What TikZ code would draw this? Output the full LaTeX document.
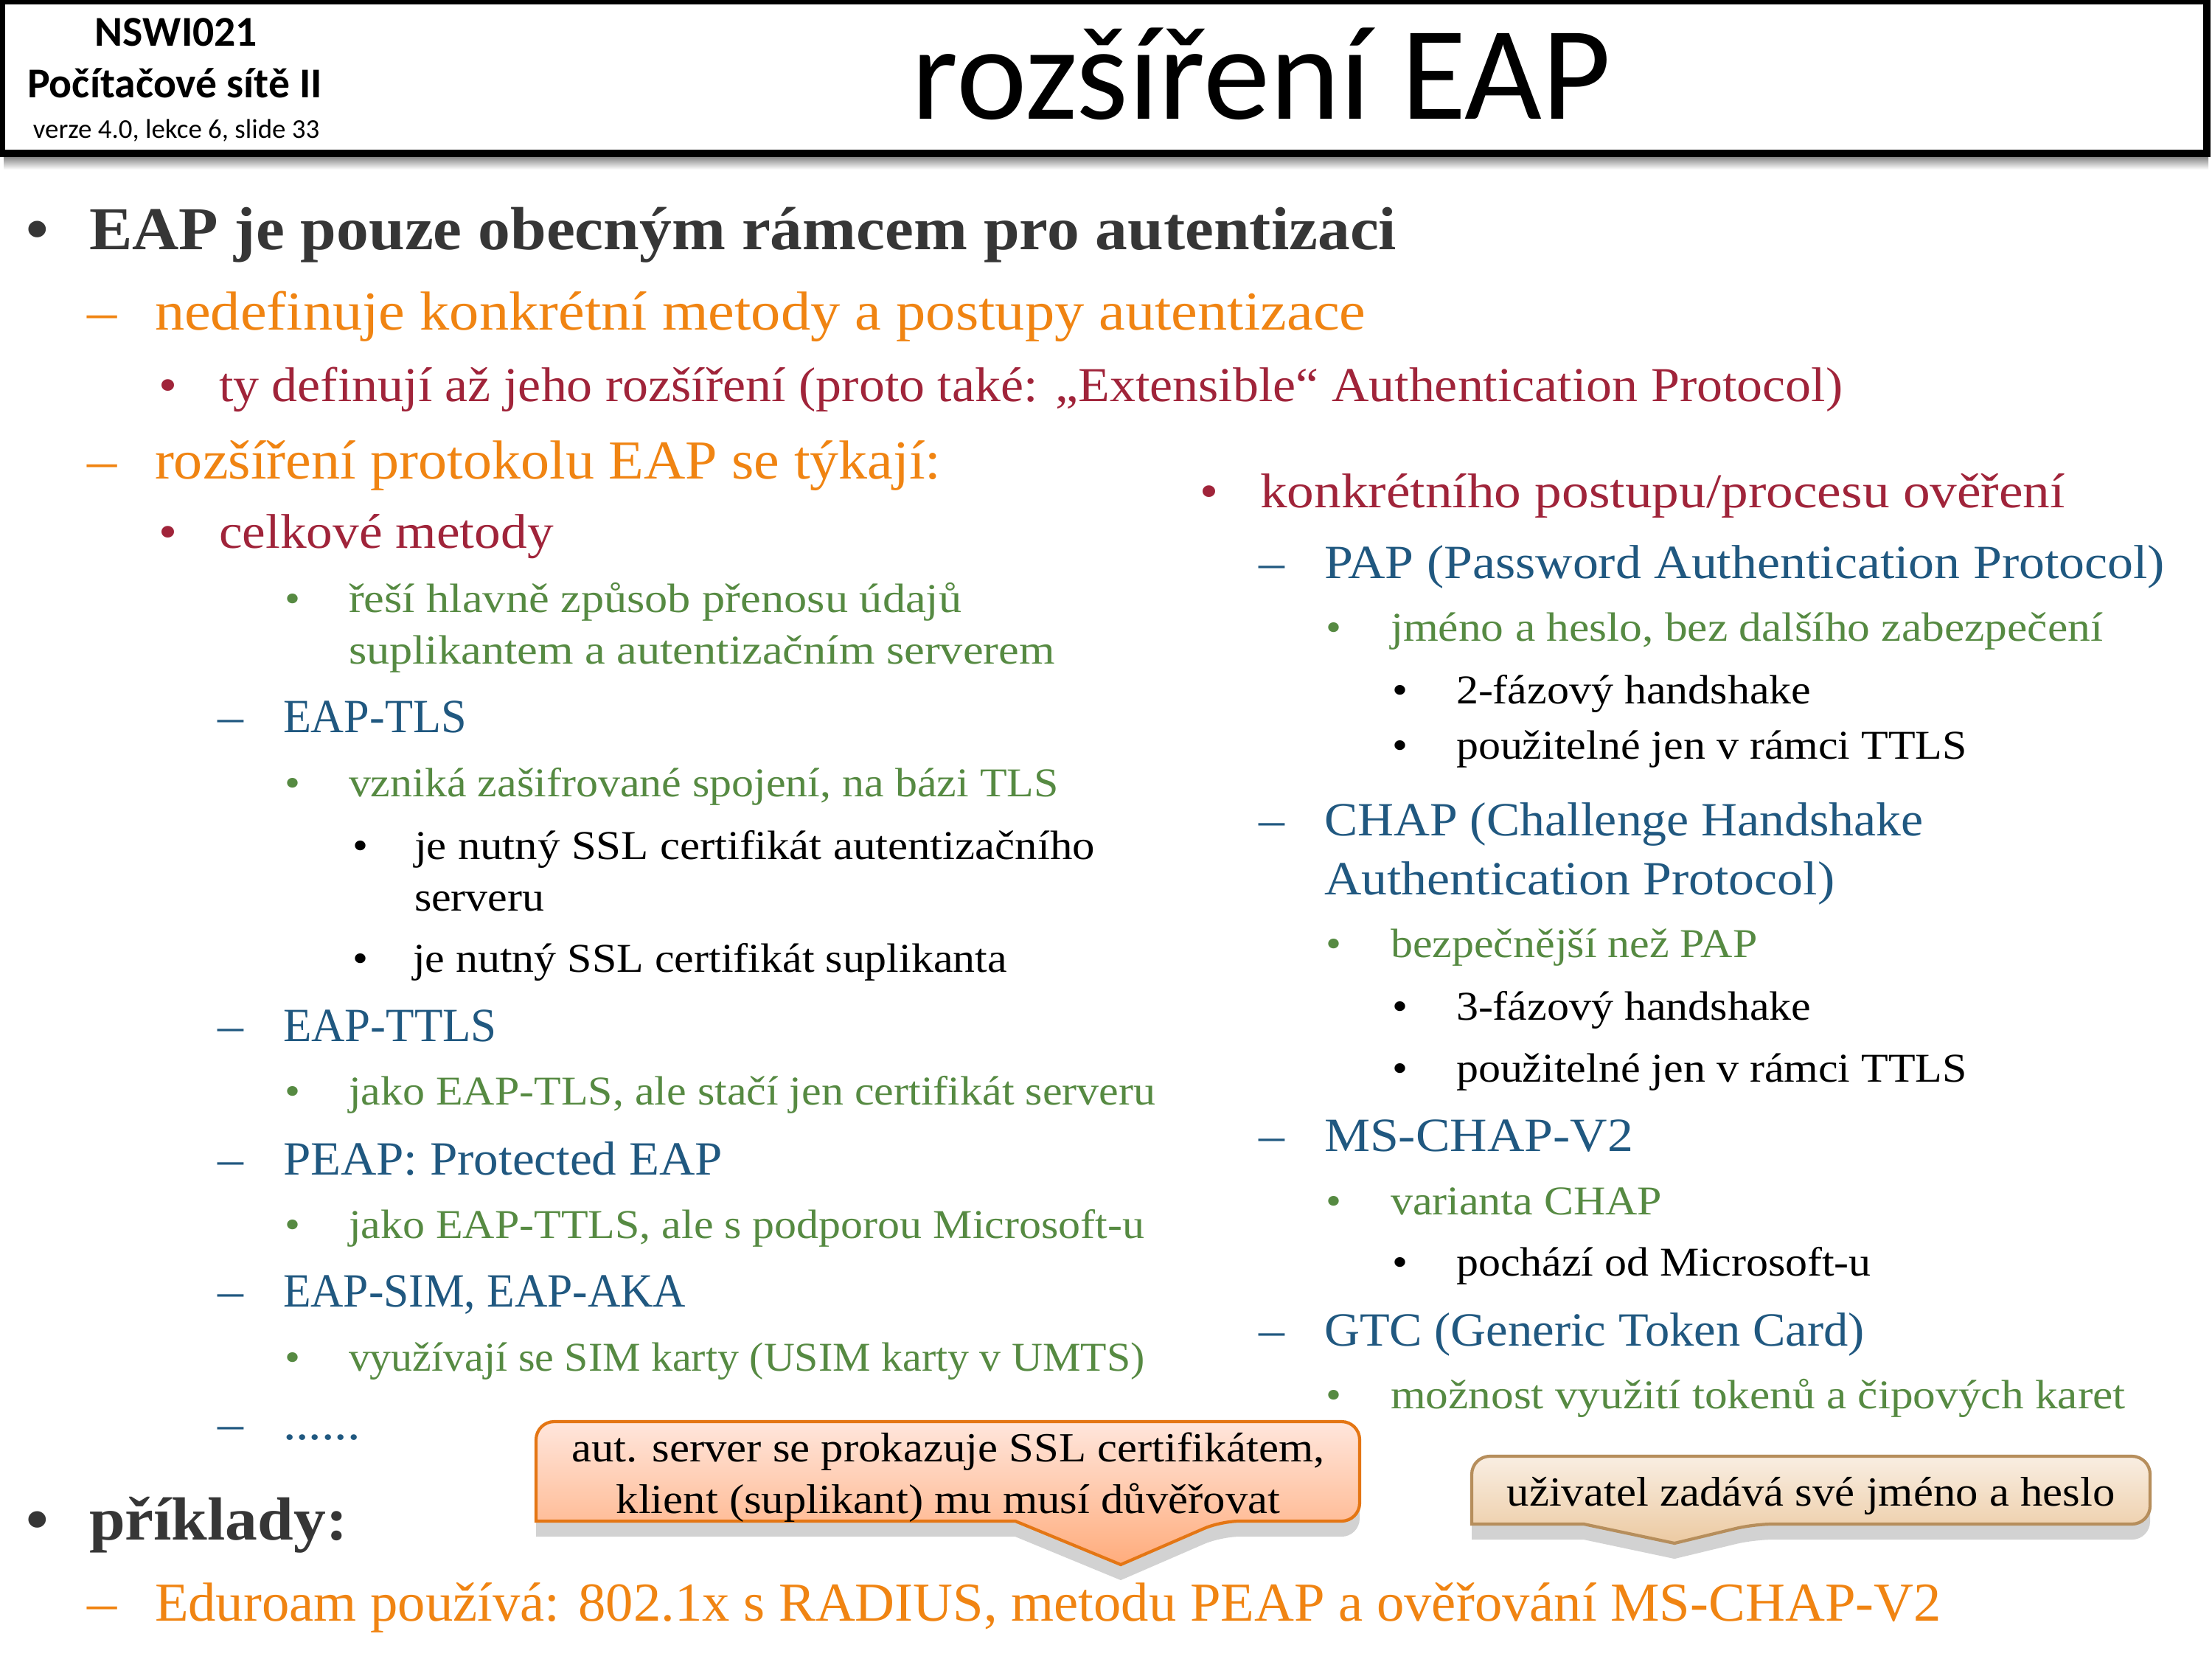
\documentclass[tikz,border=0pt]{standalone}
\usepackage{fontspec}
\setmainfont{Liberation Serif}[FakeStretch=1.08, BoldFeatures={FakeStretch=1.06}]
\newfontfamily\headfont{Carlito}
\usetikzlibrary{shadows}

\definecolor{txtgrey}{RGB}{54,54,54}
\definecolor{txtorange}{RGB}{240,132,18}
\definecolor{txtred}{RGB}{160,36,58}
\definecolor{txtblue}{RGB}{32,88,128}
\definecolor{txtgreen}{RGB}{86,138,66}
\definecolor{peachtop}{RGB}{255,230,220}
\definecolor{peachbot}{RGB}{255,172,124}
\definecolor{peachline}{RGB}{228,118,20}
\definecolor{sandtop}{RGB}{249,238,226}
\definecolor{sandbot}{RGB}{236,202,162}
\definecolor{sandline}{RGB}{182,142,92}

% horizontal squeeze for lines where the caps run wide
\newcommand{\sqz}[2]{\scalebox{#1}[1]{#2}}

\tikzset{
  txt/.style={anchor=base west, inner sep=0pt, outer sep=0pt},
  lvone/.style={txt, text=txtgrey, font=\fontsize{23.5}{28}\selectfont\bfseries},
  lvtwo/.style={txt, text=txtorange, font=\fontsize{21.2}{25}\selectfont},
  lvthree/.style={txt, text=txtred, font=\fontsize{18.8}{22}\selectfont},
  lvfour/.style={txt, text=txtblue, font=\fontsize{18.4}{22}\selectfont},
  lvfive/.style={txt, text=txtgreen, font=\fontsize{15.8}{19}\selectfont},
  lvsix/.style={txt, text=black, font=\fontsize{15.8}{19}\selectfont},
  mkone/.style={lvone},
  mktwo/.style={lvtwo},
  mkthree/.style={lvthree},
  mkfour/.style={lvfour},
  mkfive/.style={lvfive},
  mksix/.style={lvsix},
  headbold/.style={anchor=base, inner sep=0pt, font=\headfont\fontsize{16.4}{19}\selectfont\bfseries},
  headsmall/.style={anchor=base, inner sep=0pt, font=\headfont\fontsize{10.5}{12}\selectfont},
  titletext/.style={anchor=base, inner sep=0pt, font=\headfont\fontsize{51.5}{60}\selectfont},
  calltext/.style={anchor=base, inner sep=0pt, text=black, font=\fontsize{16}{19}\selectfont},
  calloutA/.style={draw=peachline, line width=1.2pt, top color=peachtop, bottom color=peachbot,
    drop shadow={opacity=0.35, shadow xshift=0pt, shadow yshift=-6pt}},
  calloutB/.style={draw=sandline, line width=1.2pt, top color=sandtop, bottom color=sandbot,
    drop shadow={opacity=0.35, shadow xshift=0pt, shadow yshift=-6pt}},
}

\begin{document}
\begin{tikzpicture}
  \useasboundingbox (0,0) rectangle (30,-22.5);
  \fill[white] (0,0) rectangle (30,-22.5);

  % header
  \shade[top color=black!55, bottom color=white] (0.05,-2.10) rectangle (29.95,-2.30);
  \draw[line width=0.1cm] (0.02,-0.01) rectangle (29.93,-2.085);
  \node[headbold] (course) at (2.39,-0.63) {NSWI021};
  \node[headbold] (subject) at (2.37,-1.33) {Počítačové sítě II};
  \node[headsmall] (version) at (2.39,-1.88) {verze 4.0, lekce 6, slide 33};
  \node[titletext] (title) at (17.11,-1.62) {rozšíření EAP};

  % left column
  \node[mkone] (eapDot) at (0.35,-3.39) {•};
  \node[lvone] (eap) at (1.21,-3.39) {EAP je pouze obecným rámcem pro autentizaci};
  \node[mktwo] (nodefDash) at (1.18,-4.48) {–};
  \node[lvtwo] (nodef) at (2.10,-4.48) {nedefinuje konkrétní metody a postupy autentizace};
  \node[mkthree] (tyDot) at (2.15,-5.45) {•};
  \node[lvthree] (ty) at (2.97,-5.45) {\sqz{0.98}{ty definují až jeho rozšíření (proto také: „Extensible“ Authentication Protocol)}};
  \node[mktwo] (extDash) at (1.18,-6.50) {–};
  \node[lvtwo] (ext) at (2.10,-6.50) {\sqz{0.97}{rozšíření protokolu EAP se týkají:}};
  \node[mkthree] (celkDot) at (2.15,-7.44) {•};
  \node[lvthree] (celk) at (2.97,-7.44) {celkové metody};
  \node[mkfive] (resDot) at (3.86,-8.31) {•};
  \node[lvfive] (resA) at (4.73,-8.31) {\sqz{1.04}{řeší hlavně způsob přenosu údajů}};
  \node[lvfive] (resB) at (4.73,-9.01) {\sqz{1.04}{suplikantem a autentizačním serverem}};
  \node[mkfour] (tlsDash) at (2.95,-9.94) {–};
  \node[lvfour] (tls) at (3.84,-9.94) {\sqz{0.89}{EAP-TLS}};
  \node[mkfive] (tlsDot) at (3.86,-10.80) {•};
  \node[lvfive] (tlsA) at (4.73,-10.80) {vzniká zašifrované spojení, na bázi TLS};
  \node[mksix] (certDot) at (4.78,-11.65) {•};
  \node[lvsix] (certA) at (5.62,-11.65) {\sqz{1.015}{je nutný SSL certifikát autentizačního}};
  \node[lvsix] (certB) at (5.62,-12.35) {serveru};
  \node[mksix] (suplDot) at (4.78,-13.18) {•};
  \node[lvsix] (supl) at (5.60,-13.18) {je nutný SSL certifikát suplikanta};
  \node[mkfour] (ttlsDash) at (2.95,-14.12) {–};
  \node[lvfour] (ttls) at (3.84,-14.12) {\sqz{0.90}{EAP-TTLS}};
  \node[mkfive] (ttlsDot) at (3.86,-14.98) {•};
  \node[lvfive] (ttlsA) at (4.73,-14.98) {jako EAP-TLS, ale stačí jen certifikát serveru};
  \node[mkfour] (peapDash) at (2.95,-15.93) {–};
  \node[lvfour] (peap) at (3.84,-15.93) {\sqz{0.96}{PEAP: Protected EAP}};
  \node[mkfive] (peapDot) at (3.86,-16.79) {•};
  \node[lvfive] (peapA) at (4.73,-16.79) {jako EAP-TTLS, ale s podporou Microsoft-u};
  \node[mkfour] (simDash) at (2.95,-17.72) {–};
  \node[lvfour] (sim) at (3.84,-17.72) {\sqz{0.88}{EAP-SIM, EAP-AKA}};
  \node[mkfive] (simDot) at (3.86,-18.59) {•};
  \node[lvfive] (simA) at (4.73,-18.59) {\sqz{0.966}{využívají se SIM karty (USIM karty v UMTS)}};
  \node[mkfour] (moreDash) at (2.95,-19.52) {–};
  \node[lvfour] (more) at (3.84,-19.52) {......};
  \node[mkone] (exDot) at (0.35,-20.88) {•};
  \node[lvone] (ex) at (1.21,-20.88) {příklady:};
  \node[mktwo] (eduDash) at (1.18,-21.98) {–};
  \node[lvtwo] (edu) at (2.10,-21.98) {\sqz{0.928}{Eduroam používá: 802.1x s RADIUS, metodu PEAP a ověřování MS-CHAP-V2}};

  % right column
  \node[mkthree] (procDot) at (16.27,-6.89) {•};
  \node[lvthree] (proc) at (17.09,-6.89) {\sqz{1.028}{konkrétního postupu/procesu ověření}};
  \node[mkfour] (papDash) at (17.07,-7.85) {–};
  \node[lvfour] (pap) at (17.96,-7.85) {PAP (Password Authentication Protocol)};
  \node[mkfive] (papDot) at (17.98,-8.70) {•};
  \node[lvfive] (papA) at (18.86,-8.70) {\sqz{1.025}{jméno a heslo, bez dalšího zabezpečení}};
  \node[mksix] (papBDot) at (18.88,-9.55) {•};
  \node[lvsix] (papB) at (19.75,-9.55) {2-fázový handshake};
  \node[mksix] (papCDot) at (18.88,-10.30) {•};
  \node[lvsix] (papC) at (19.75,-10.30) {použitelné jen v rámci TTLS};
  \node[mkfour] (chapDash) at (17.07,-11.33) {–};
  \node[lvfour] (chapA) at (17.96,-11.33) {\sqz{0.97}{CHAP (Challenge Handshake}};
  \node[lvfour] (chapB) at (17.96,-12.13) {Authentication Protocol)};
  \node[mkfive] (chapDot) at (17.98,-12.98) {•};
  \node[lvfive] (chapC) at (18.86,-12.98) {bezpečnější než PAP};
  \node[mksix] (chapDDot) at (18.88,-13.83) {•};
  \node[lvsix] (chapD) at (19.75,-13.83) {3-fázový handshake};
  \node[mksix] (chapEDot) at (18.88,-14.67) {•};
  \node[lvsix] (chapE) at (19.75,-14.67) {použitelné jen v rámci TTLS};
  \node[mkfour] (msDash) at (17.07,-15.61) {–};
  \node[lvfour] (ms) at (17.96,-15.61) {MS-CHAP-V2};
  \node[mkfive] (msDot) at (17.98,-16.47) {•};
  \node[lvfive] (msA) at (18.86,-16.47) {varianta CHAP};
  \node[mksix] (msBDot) at (18.88,-17.30) {•};
  \node[lvsix] (msB) at (19.75,-17.30) {pochází od Microsoft-u};
  \node[mkfour] (gtcDash) at (17.07,-18.25) {–};
  \node[lvfour] (gtc) at (17.96,-18.25) {\sqz{0.953}{GTC (Generic Token Card)}};
  \node[mkfive] (gtcDot) at (17.98,-19.10) {•};
  \node[lvfive] (gtcA) at (18.86,-19.10) {\sqz{1.023}{možnost využití tokenů a čipových karet}};

  % callouts
  \draw[calloutA] (12,-19.28) [rounded corners=7pt] -- (18.44,-19.28) -- (18.44,-20.63) -- (16.56,-20.63)
    [sharp corners] -- (15.20,-21.22) -- (13.77,-20.63) -- (7.27,-20.63) [rounded corners=7pt] -- (7.27,-19.28) -- cycle;
  \node[calltext] (serverA) at (12.86,-19.82) {aut. server se prokazuje SSL certifikátem,};
  \node[calltext] (serverB) at (12.86,-20.52) {klient (suplikant) mu musí důvěřovat};

  \draw[calloutB] (24,-19.75) [rounded corners=7pt] -- (29.16,-19.75) -- (29.16,-20.67) -- (23.79,-20.67)
    [sharp corners] -- (22.71,-20.93) -- (21.48,-20.67) -- (19.96,-20.67) [rounded corners=7pt] -- (19.96,-19.75) -- cycle;
  \node[calltext] (userA) at (24.56,-20.42) {uživatel zadává své jméno a heslo};
\end{tikzpicture}
\end{document}
